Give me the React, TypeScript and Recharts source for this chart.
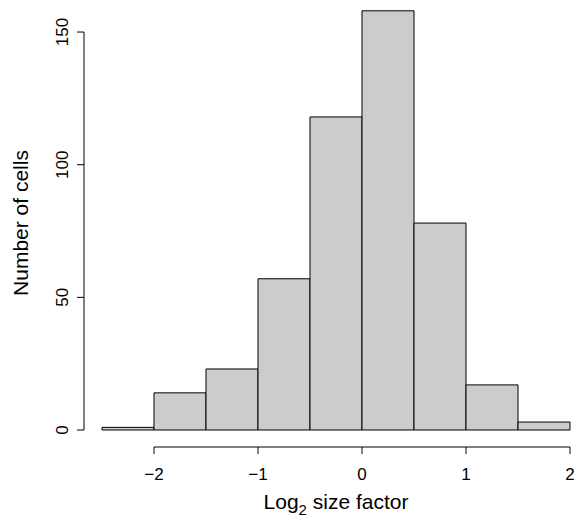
import { Bar, BarChart, Label, ReferenceLine, XAxis, YAxis } from "recharts"

const binMids = [-2.25, -1.75, -1.25, -0.75, -0.25, 0.25, 0.75, 1.25, 1.75]
const counts = [1, 14, 23, 57, 118, 158, 78, 17, 3]
const xTicks = [-2, -1, 0, 1, 2]
const yTicks = [0, 50, 100, 150]

const data = binMids.map((mid, i) => ({ mid, count: counts[i] }))

const font = "'Liberation Sans', Arial, sans-serif"

function XTick({ x, y, payload }: any) {
  return (
    <g>
      <line x1={x} x2={x} y1={y + 17} y2={y + 24} stroke="#000" />
      <text x={x} y={y + 50} textAnchor="middle" fontSize={17} fontFamily={font} fill="#000">
        {payload.value < 0 ? "\u2212" + Math.abs(payload.value) : payload.value}
      </text>
    </g>
  )
}

function YTick({ x, y, payload }: any) {
  return (
    <g>
      <line x1={x - 25} x2={x - 18} y1={y} y2={y} stroke="#000" />
      <text
        x={x - 34}
        y={y}
        textAnchor="middle"
        fontSize={17}
        fontFamily={font}
        fill="#000"
        transform={`rotate(-90 ${x - 34} ${y})`}
      >
        {payload.value}
      </text>
    </g>
  )
}

export default function App() {
  return (
    <div style={{ position: "absolute", left: 0, top: 0, background: "#fff" }}>
      <BarChart
        width={577}
        height={517}
        data={data}
        margin={{ top: 5.5, right: 7, left: 0, bottom: 0 }}
        barCategoryGap={0}
        barGap={0}
      >
        <XAxis
          dataKey="mid"
          type="number"
          domain={[-2.5, 2]}
          ticks={xTicks}
          height={87}
          axisLine={false}
          tickLine={false}
          tickSize={0}
          tickMargin={0}
          tick={<XTick />}
        >
          <Label
            content={({ viewBox }: any) => {
              const cx = viewBox.x + viewBox.width / 2
              return (
                <text x={cx} y={viewBox.y + 79} textAnchor="middle" fontSize={21} fontFamily={font} fill="#000">
                  Log
                  <tspan dy={6} fontSize={15}>2</tspan>
                  <tspan dy={-6}> size factor</tspan>
                </text>
              )
            }}
          />
        </XAxis>
        <YAxis
          type="number"
          domain={[0, 160]}
          ticks={yTicks}
          width={102}
          axisLine={false}
          tickLine={false}
          tickSize={0}
          tickMargin={0}
          tick={<YTick />}
        >
          <Label
            content={() => {
              const cy = 223
              const lx = 28
              return (
                <text
                  x={lx}
                  y={cy}
                  textAnchor="middle"
                  fontSize={21}
                  fontFamily={font}
                  fill="#000"
                  transform={`rotate(-90 ${lx} ${cy})`}
                >
                  Number of cells
                </text>
              )
            }}
          />
        </YAxis>
        <ReferenceLine
          segment={[{ x: -2, y: 0 }, { x: 2, y: 0 }]}
          ifOverflow="visible"
          shape={(p: any) => <line x1={p.x1} x2={p.x2} y1={p.y1 + 17} y2={p.y2 + 17} stroke="#000" />}
        />
        <ReferenceLine
          segment={[{ x: -2.5, y: 0 }, { x: -2.5, y: 150 }]}
          ifOverflow="visible"
          shape={(p: any) => <line x1={p.x1 - 18} x2={p.x2 - 18} y1={p.y1} y2={p.y2} stroke="#000" />}
        />
        <Bar dataKey="count" fill="#cccccc" stroke="#000" strokeWidth={1} isAnimationActive={false} />
      </BarChart>
    </div>
  )
}
